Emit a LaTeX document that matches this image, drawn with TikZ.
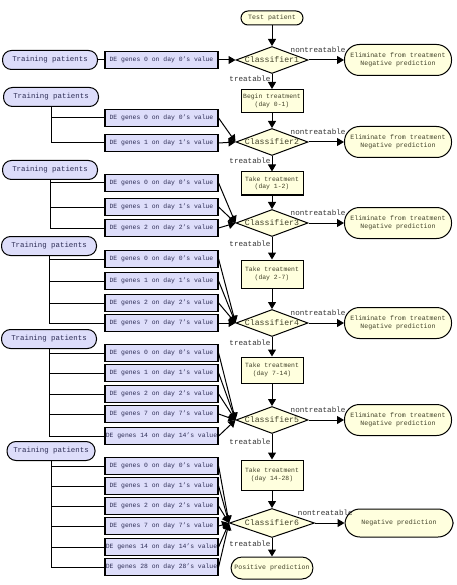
\documentclass[tikz,border=0pt]{standalone}
\usepackage{fontspec}
\setmainfont{Liberation Mono}
\usetikzlibrary{arrows.meta,shapes.geometric}
\definecolor{cplav}{RGB}{221,221,250}
\definecolor{cpcream}{RGB}{255,255,222}
\definecolor{cpnavy}{RGB}{45,45,85}
\definecolor{cpolive}{RGB}{65,65,40}
\definecolor{cpgray}{RGB}{50,50,50}

\begin{document}
\begin{tikzpicture}[x=1pt,y=-1pt,
  term/.style={draw,line width=1pt,fill=cpcream,text=cpolive,rounded corners=15pt,
    font=\fontsize{6.6}{8.5}\selectfont,align=center,minimum width=107pt,minimum height=31pt},
  treatbox/.style={draw,line width=1pt,fill=cpcream,text=cpolive,
    font=\fontsize{6.4}{7.6}\selectfont,align=center,minimum width=62pt,minimum height=25pt,inner sep=1pt},
  cls/.style={draw,line width=1pt,fill=cpcream,text=cpolive,diamond,aspect=2.8,inner sep=0pt,
    font=\fontsize{8.2}{9}\selectfont,minimum width=72pt,minimum height=27pt},
  train/.style={draw,line width=1pt,fill=cplav,text=cpnavy,rounded corners=9pt,
    font=\fontsize{7.4}{8}\selectfont,minimum width=95pt,minimum height=19pt},
  debox/.style={draw,line width=1.2pt,fill=cplav,text=cpnavy,inner sep=0pt,
    font=\fontsize{6.4}{7}\selectfont,minimum width=113pt,minimum height=17pt},
  tlab/.style={text=cpgray,font=\fontsize{7.6}{9}\selectfont,inner sep=1pt},
  arr/.style={-{Triangle[length=7pt,width=8pt]},line width=1pt},
  branch/.style={line width=1pt}
]
  \useasboundingbox (0,0) rectangle (456,585);

  % Test patient and classifier chain
  \node[term,rounded corners=7pt,minimum width=62pt,minimum height=14pt,inner sep=0pt] (test) at (272,18) {Test patient};
  \node[cls] (cls1) at (272,60) {Classifier1};
  \node[cls] (cls2) at (272,142) {Classifier2};
  \node[cls] (cls3) at (272,223) {Classifier3};
  \node[cls] (cls4) at (272,323) {Classifier4};
  \node[cls] (cls5) at (272,420) {Classifier5};
  \node[cls,minimum width=85pt,minimum height=29pt] (cls6) at (272,523) {Classifier6};

  \node[treatbox,minimum height=23pt] (treat1) at (272,101) {Begin treatment\\(day 0-1)};
  \node[treatbox,minimum height=23pt] (treat2) at (272,183.5) {Take treatment\\(day 1-2)};
  \node[treatbox,minimum height=28pt] (treat3) at (272,274) {Take treatment\\(day 2-7)};
  \node[treatbox,minimum height=26pt] (treat4) at (272,370) {Take treatment\\(day 7-14)};
  \node[treatbox,minimum height=30pt] (treat5) at (272,475) {Take treatment\\(day 14-28)};

  \node[term] (elim1) at (398,60) {Eliminate from treatment\\Negative prediction};
  \node[term] (elim2) at (398,142) {Eliminate from treatment\\Negative prediction};
  \node[term] (elim3) at (398,223) {Eliminate from treatment\\Negative prediction};
  \node[term] (elim4) at (398,323) {Eliminate from treatment\\Negative prediction};
  \node[term] (elim5) at (398,420) {Eliminate from treatment\\Negative prediction};
  \node[term,minimum height=28pt,minimum width=108pt] (neg) at (399,523) {Negative prediction};
  \node[term,rounded corners=11pt,minimum width=81pt,minimum height=22pt] (pos) at (272,568) {Positive prediction};

  \draw[arr] (test) -- (cls1);
  \foreach \i/\n in {1/2,2/3,3/4,4/5,5/6} {
    \draw[arr] (cls\i) -- node[tlab,left,pos=0.3] {treatable} (treat\i);
    \draw[arr] (treat\i) -- (cls\n);
  }
  \foreach \i in {1,...,5}
    \draw[arr] (cls\i) -- node[tlab,above=6pt,pos=0.27] {nontreatable} (elim\i);
  \draw[arr] (cls6) -- node[tlab,above=6pt,pos=0.35] {nontreatable} (neg);
  \draw[arr] (cls6) -- node[tlab,left,pos=0.3] {treatable} (pos);

  % Training patients
  \node[train] (train1) at (50,60) {Training patients};
  \node[train] (train2) at (51,97) {Training patients};
  \node[train] (train3) at (50,170) {Training patients};
  \node[train] (train4) at (49,246) {Training patients};
  \node[train] (train5) at (49,339) {Training patients};
  \node[train,minimum width=88pt] (train6) at (51,451) {Training patients};

  % DE gene boxes
  \node[debox] (de1-0) at (161.5,60) {DE genes 0 on day 0's value};
  \draw[branch] (train1) -- (de1-0);
  \draw[arr] (de1-0) -- (cls1);
  \foreach \g/\list in {2/{0/118,1/143},3/{0/183,1/207,2/228},
      4/{0/259,1/281,2/303,7/323},5/{0/353,1/373,2/394,7/414,14/436},
      6/{0/466,1/486,2/506,7/526,14/547,28/567}} {
    \foreach \d/\yy in \list {
      \node[debox] (de\g-\d) at (161.5,\yy) {DE genes \d{} on day \d's value};
      \draw[branch] (train\g.south) |- (de\g-\d.west);
      \draw[arr] (de\g-\d.east) -- (cls\g.west);
    }
  }
\end{tikzpicture}
\end{document}
